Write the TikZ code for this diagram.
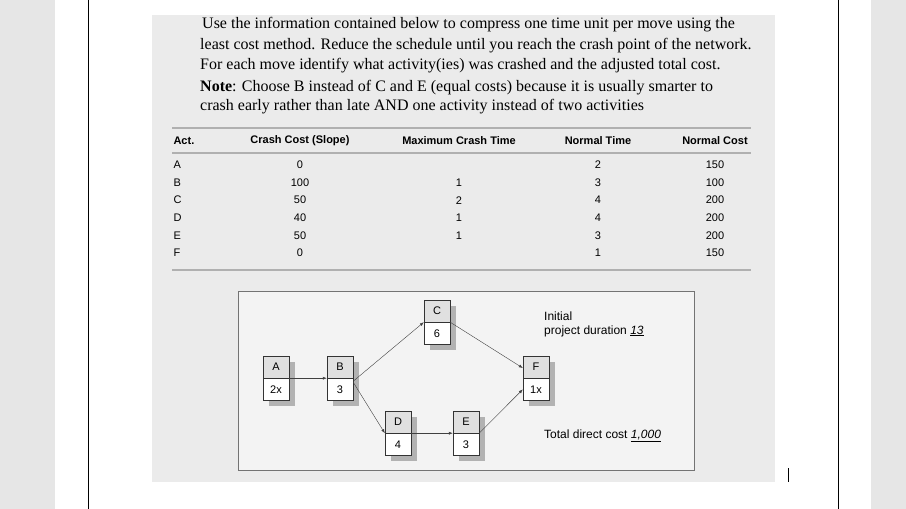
\documentclass[tikz,border=0pt]{standalone}
\usepackage{fontspec}
\setmainfont{Liberation Serif}
\newfontfamily\tabfont{Liberation Sans}
\usetikzlibrary{arrows.meta}
\definecolor{side}{HTML}{E6E6E6}
\definecolor{panel}{HTML}{EBEBEB}
\definecolor{inner}{HTML}{F3F3F3}
\definecolor{rule}{HTML}{B0B0B0}
\begin{document}
\begin{tikzpicture}[x=1pt,y=-1pt,
  cellt/.style={draw=black!80,fill=black!12,minimum width=26pt,minimum height=22pt,inner sep=0,font=\tabfont\fontsize{11}{11}\selectfont},
  cellb/.style={draw=black!80,fill=white,minimum width=26pt,minimum height=22pt,inner sep=0,font=\tabfont\fontsize{11}{11}\selectfont},
  shad/.style={fill=black!30,draw=none},
  arr/.style={draw=black!75,-{Latex[length=4pt,width=3pt]}},
  hd/.style={font=\tabfont\bfseries\fontsize{11}{11}\selectfont},
  vl/.style={font=\tabfont\fontsize{11}{11}\selectfont},
  lb/.style={font=\tabfont\fontsize{12}{12}\selectfont,anchor=west,inner sep=0},
  para/.style={font=\fontsize{16}{16}\selectfont,anchor=west,inner sep=0}]
\useasboundingbox (0,0) rectangle (906,509);
\fill[side] (0,0) rectangle (55,509);
\fill[side] (871,0) rectangle (906,509);
\fill[white] (55,0) rectangle (871,509);
\draw[line width=1pt] (88,0) -- (88,509);
\draw[line width=1pt] (838,0) -- (838,509);
\fill[panel] (152,15) rectangle (775,482);
\draw[line width=1pt] (788,468) -- (788,482);
% paragraph
\node[para] (p1) at (202,25) {Use the information contained below to compress one time unit per move using the};
\node[para] (p2) at (200,46) {least cost method. Reduce the schedule until you reach the crash point of the network.};
\node[para] (p3) at (200,66) {For each move identify what activity(ies) was crashed and the adjusted total cost.};
\node[para] (p4) at (200,88) {\textbf{Note}: Choose B instead of C and E (equal costs) because it is usually smarter to};
\node[para] (p5) at (200,107) {crash early rather than late AND one activity instead of two activities};
% table
\draw[rule,line width=1.5pt] (172,128) -- (751,128);
\draw[rule,line width=1.5pt] (172,153) -- (751,153);
\draw[rule,line width=1.2pt] (172,270) -- (751,270);
\node[hd,anchor=west] (h1) at (170,141) {Act.};
\node[hd] (h2) at (300,141) {Crash Cost (Slope)};
\node[hd] (h3) at (459,141) {Maximum Crash Time};
\node[hd] (h4) at (598,141) {Normal Time};
\node[hd] (h5) at (715,141) {Normal Cost};
\foreach \a/\c/\m/\t/\k [count=\i] in {A/0//2/150,B/100/1/3/100,C/50/2/4/200,D/40/1/4/200,E/50/1/3/200,F/0//1/150}{
  \pgfmathsetmacro\yy{165+17.6*(\i-1)}
  \node[vl,anchor=west] (ra\i) at (170,\yy) {\a};
  \node[vl] (rc\i) at (300,\yy) {\c};
  \node[vl] (rm\i) at (459,\yy) {\m};
  \node[vl] (rt\i) at (598,\yy) {\t};
  \node[vl] (rk\i) at (715,\yy) {\k};
}
% network box
\draw[black!55,fill=inner,line width=0.8pt] (238,291) rectangle (694,470);
\foreach \n/\lab/\dur/\x/\y in {A/A/2x/276/367,B/B/3/340/367,C/C/6/437/311,D/D/4/398/422,E/E/3/466/422,F/F/1x/536/367}{
  \fill[shad] (\x-7,\y-5) rectangle (\x+19,\y+39);
  \node[cellt] (\n t) at (\x,\y) {\lab};
  \node[cellb,anchor=north] (\n b) at (\n t.south) {\dur};
}
\draw[arr] (At.south east) -- (Bt.south west);
\draw[arr] ([yshift=-3pt]Bt.south east) -- (Ct.south west);
\draw[arr] (Ct.south east) -- ([yshift=-1pt]Ft.west);
\draw[arr] ([yshift=-4pt]Bb.north east) -- (Dt.south west);
\draw[arr] (Dt.south east) -- (Et.south west);
\draw[arr] (Et.south east) -- (Fb.west);
\node[lb] (l1) at (544,316) {Initial};
\node[lb] (l2) at (544,331) {project duration \underline{\itshape 13}};
\node[lb] (l3) at (544,436) {Total direct cost \underline{\itshape 1,000}};
\end{tikzpicture}
\end{document}
